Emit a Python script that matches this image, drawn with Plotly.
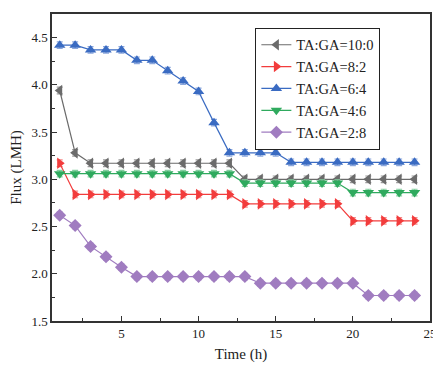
import plotly.graph_objects as go

time_h = list(range(1, 25))
series_names = ["TA:GA=10:0", "TA:GA=8:2", "TA:GA=6:4", "TA:GA=4:6", "TA:GA=2:8"]
flux_10_0 = [3.94, 3.28, 3.17, 3.17, 3.17, 3.17, 3.17, 3.17, 3.17, 3.17, 3.17, 3.17,
             3.00, 3.00, 3.00, 3.00, 3.00, 3.00, 3.00, 3.00, 3.00, 3.00, 3.00, 3.00]
flux_8_2 = [3.17, 2.84, 2.84, 2.84, 2.84, 2.84, 2.84, 2.84, 2.84, 2.84, 2.84, 2.84,
            2.74, 2.74, 2.74, 2.74, 2.74, 2.74, 2.74, 2.56, 2.56, 2.56, 2.56, 2.56]
flux_6_4 = [4.42, 4.42, 4.37, 4.37, 4.37, 4.26, 4.26, 4.15, 4.04, 3.93, 3.60, 3.28,
            3.28, 3.28, 3.28, 3.18, 3.18, 3.18, 3.18, 3.18, 3.18, 3.18, 3.18, 3.18]
flux_4_6 = [3.06, 3.06, 3.06, 3.06, 3.06, 3.06, 3.06, 3.06, 3.06, 3.06, 3.06, 3.06,
            2.96, 2.96, 2.96, 2.96, 2.96, 2.96, 2.96, 2.86, 2.86, 2.86, 2.86, 2.86]
flux_2_8 = [2.62, 2.51, 2.29, 2.18, 2.07, 1.97, 1.97, 1.97, 1.97, 1.97, 1.97, 1.97,
            1.97, 1.90, 1.90, 1.90, 1.90, 1.90, 1.90, 1.90, 1.77, 1.77, 1.77, 1.77]
err = [0.035] * 24

series = [flux_10_0, flux_8_2, flux_6_4, flux_4_6, flux_2_8]
colors = ["#6b6b6b", "#f23c3c", "#3a6bc2", "#2faa5e", "#a07cc0"]
err_colors = ["#9a9a9a", "#f58a8a", "#8aa6dc", "#82cf9f", "#c4aedb"]
symbols = ["triangle-left", "triangle-right", "triangle-up", "triangle-down", "diamond"]

FONT = "Liberation Serif, Times New Roman, serif"

fig = go.Figure()
for name, ys, c, ec, s in zip(series_names, series, colors, err_colors, symbols):
    fig.add_trace(go.Scatter(
        x=time_h, y=ys, name=name, mode="lines+markers",
        line=dict(color=c, width=1.2),
        marker=dict(symbol=s, size=10, color=c),
        error_y=dict(type="data", array=err, color=ec, thickness=1.2, width=3),
    ))

# page body has an 8px margin; compensate so the plot area lands at the reference spot
fig.update_layout(
    width=433, height=359,
    margin=dict(l=44, r=6, t=4, b=46),
    paper_bgcolor="white", plot_bgcolor="white",
    font=dict(family=FONT, size=13, color="#222"),
    legend=dict(x=0.538, y=0.955, xanchor="left", yanchor="top",
                bordercolor="#222", borderwidth=1, bgcolor="white",
                font=dict(size=14.5, family=FONT, color="#222"),
                tracegroupgap=0, itemsizing="trace"),
    showlegend=True,
)
fig.update_xaxes(
    range=[0.5, 25], tickvals=[5, 10, 15, 20, 25], ticks="inside", ticklen=5,
    tickcolor="#333", linecolor="#333", linewidth=1.5, mirror=True, showgrid=False,
    zeroline=False, ticklabeloverflow="allow",
    minor=dict(tickvals=[2.5, 7.5, 12.5, 17.5, 22.5], ticks="inside", ticklen=3, tickcolor="#333"),
    title=dict(text="Time (h)", font=dict(size=15, family=FONT), standoff=8),
    tickfont=dict(size=13, family=FONT),
)
fig.update_yaxes(
    range=[1.5, 4.75], tickvals=[1.5, 2.0, 2.5, 3.0, 3.5, 4.0, 4.5], tickformat=".1f",
    ticks="inside", ticklen=5, tickcolor="#333", linecolor="#333", linewidth=1.5,
    mirror=True, showgrid=False, zeroline=False,
    minor=dict(tickvals=[1.75, 2.25, 2.75, 3.25, 3.75, 4.25], ticks="inside", ticklen=3, tickcolor="#333"),
    title=dict(text="Flux (LMH)", font=dict(size=15, family=FONT), standoff=6),
    tickfont=dict(size=13, family=FONT),
)

fig.write_html("out.html")
